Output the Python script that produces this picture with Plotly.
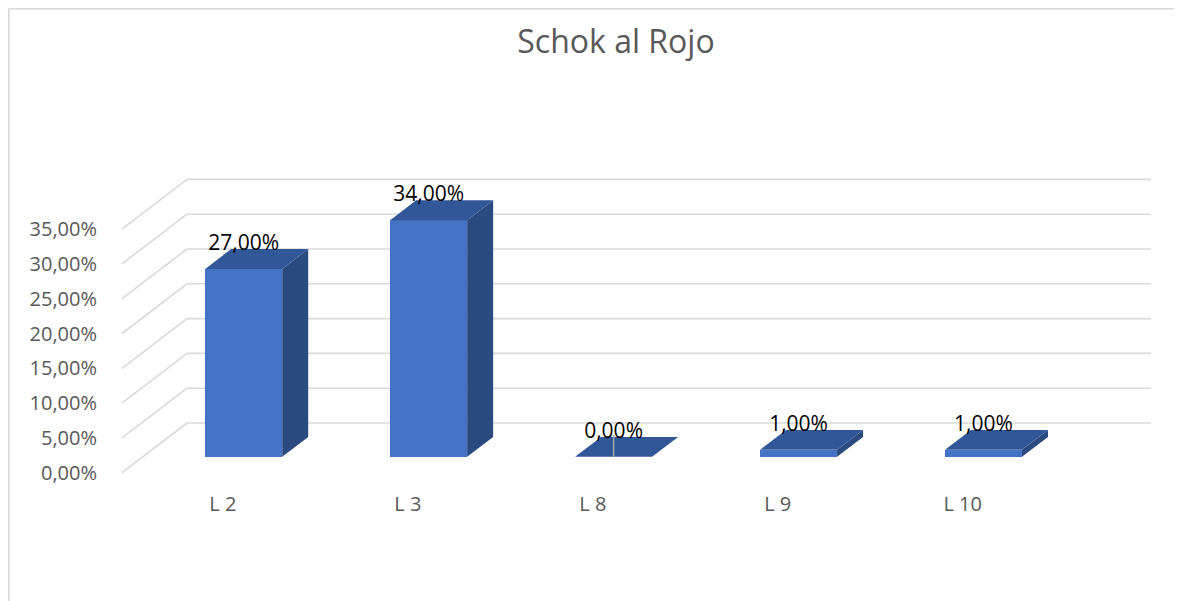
import plotly.graph_objects as go

# ---------------- data ----------------
categories = ["L 2", "L 3", "L 8", "L 9", "L 10"]
values = [27.0, 34.0, 0.0, 1.0, 1.0]
data_labels = ["27,00%", "34,00%", "0,00%", "1,00%", "1,00%"]
tick_values = [0, 5, 10, 15, 20, 25, 30, 35]
tick_labels = ["0,00%", "5,00%", "10,00%", "15,00%", "20,00%", "25,00%", "30,00%", "35,00%"]
chart_title = "Schok al Rojo"

# ---------------- geometry (pixel calibration of the 3-D look) ----------------
W, H = 1182, 601
OFF = 8                            # page body margin
PX0, PX_STEP = 222.9 - OFF, 184.95  # pixel x of category 0 at floor front, pixels per category
PY0, PY_UNIT = 472.7 - OFF, 6.96    # pixel y of 0 % at front, pixels per 1 %
PL, PR, PT, PB = 100, 1160, 140, 482   # plot area in figure pixels

x_range = [(PL - PX0) / PX_STEP, (PR - PX0) / PX_STEP]
y_range = [(PY0 - PB) / PY_UNIT, (PY0 - PT) / PY_UNIT]

DX = 65 / PX_STEP        # full floor depth, x shift
DY = 49.7 / PY_UNIT      # full floor depth, y shift
F0, F1 = 0.32, 0.72      # bar front / back depth fractions
HW = 38.5 / PX_STEP      # bar half width
wall_left = (122 - OFF - PX0) / PX_STEP
wall_right = (1151 - OFF - PX0) / PX_STEP

FRONT = "#4472C4"
TOP = "#325799"
SIDE = "#2B4A7F"
GRID = "#D9D9D9"
FONT = "Open Sans"

fig = go.Figure()

# gridlines (behind the bars): diagonal on side wall + horizontal on back wall
for v in tick_values:
    fig.add_shape(type="line", xref="x", yref="y", layer="below",
                  x0=wall_left, y0=v, x1=wall_left + DX, y1=v + DY,
                  line=dict(color=GRID, width=1.6))
    fig.add_shape(type="line", xref="x", yref="y", layer="below",
                  x0=wall_left + DX, y0=v + DY, x1=wall_right, y1=v + DY,
                  line=dict(color=GRID, width=1.6))

idx = list(range(len(categories)))
xc = [i + F0 * DX for i in idx]
base = F0 * DY
ddx = (F1 - F0) * DX
ddy = (F1 - F0) * DY

# front faces
fig.add_trace(go.Bar(x=xc, y=values, base=base, width=2 * HW,
                     marker=dict(color=FRONT, line=dict(width=0)),
                     hoverinfo="skip", showlegend=False))

# side faces
sx, sy = [], []
for c, v in zip(xc, values):
    xr = c + HW
    sx += [xr, xr, xr + ddx, xr + ddx, xr, None]
    sy += [base, base + v, base + v + ddy, base + ddy, base, None]
fig.add_trace(go.Scatter(x=sx, y=sy, mode="lines", fill="toself", fillcolor=SIDE,
                         line=dict(width=0, color=SIDE), hoverinfo="skip", showlegend=False))

# top faces
tx, ty = [], []
for c, v in zip(xc, values):
    xl, xr = c - HW, c + HW
    yt = base + v
    tx += [xl, xr, xr + ddx, xl + ddx, xl, None]
    ty += [yt, yt, yt + ddy, yt + ddy, yt, None]
fig.add_trace(go.Scatter(x=tx, y=ty, mode="lines", fill="toself", fillcolor=TOP,
                         line=dict(width=0, color=TOP), hoverinfo="skip", showlegend=False))

# leader line for zero-valued bars
lx, ly = [], []
for c, v in zip(xc, values):
    if v == 0:
        lx += [c, c, None]
        ly += [base, base + ddy + 0.3, None]
if lx:
    fig.add_trace(go.Scatter(x=lx, y=ly, mode="lines", line=dict(color="#A6A6A6", width=1.5),
                             hoverinfo="skip", showlegend=False))

# data labels
fig.add_trace(go.Scatter(x=xc, y=[base + v + ddy + 0.65 for v in values], mode="text",
                         text=data_labels, textposition="middle center",
                         textfont=dict(family=FONT, size=21, color="#000000"),
                         cliponaxis=False, hoverinfo="skip", showlegend=False))

# chart border (left and top edges visible)
def px_to_paper_x(p):
    return (p - PL) / (PR - PL)

def py_to_paper_y(p):
    return (PB - p) / (PB - PT)

border = dict(color="#D9D9D9", width=1.6)
fig.add_shape(type="line", xref="paper", yref="paper",
              x0=px_to_paper_x(0.8), x1=px_to_paper_x(0.8),
              y0=py_to_paper_y(0.8), y1=py_to_paper_y(H + 5), line=border)
fig.add_shape(type="line", xref="paper", yref="paper",
              x0=px_to_paper_x(0.8), x1=px_to_paper_x(W + 5),
              y0=py_to_paper_y(0.8), y1=py_to_paper_y(0.8), line=border)

fig.update_layout(
    width=W, height=H,
    margin=dict(l=PL, r=W - PR, t=PT, b=H - PB),
    paper_bgcolor="white", plot_bgcolor="white",
    bargap=0,
    title=dict(text=chart_title, x=(616 - OFF) / W, xref="container", xanchor="center",
               y=1 - (42 - OFF) / H, yref="container", yanchor="middle",
               font=dict(family=FONT, size=32, color="#595959")),
    xaxis=dict(range=x_range, tickmode="array", tickvals=idx, ticktext=categories,
               showgrid=False, zeroline=False, showline=False, ticks="",
               tickfont=dict(family=FONT, size=20, color="#595959"),
               ticklabelstandoff=0, fixedrange=True),
    yaxis=dict(range=y_range, tickmode="array", tickvals=tick_values, ticktext=tick_labels,
               showgrid=False, zeroline=False, showline=False, ticks="",
               tickfont=dict(family=FONT, size=20, color="#595959"),
               ticklabelstandoff=10, fixedrange=True),
    showlegend=False,
)

fig.write_html("out.html")
